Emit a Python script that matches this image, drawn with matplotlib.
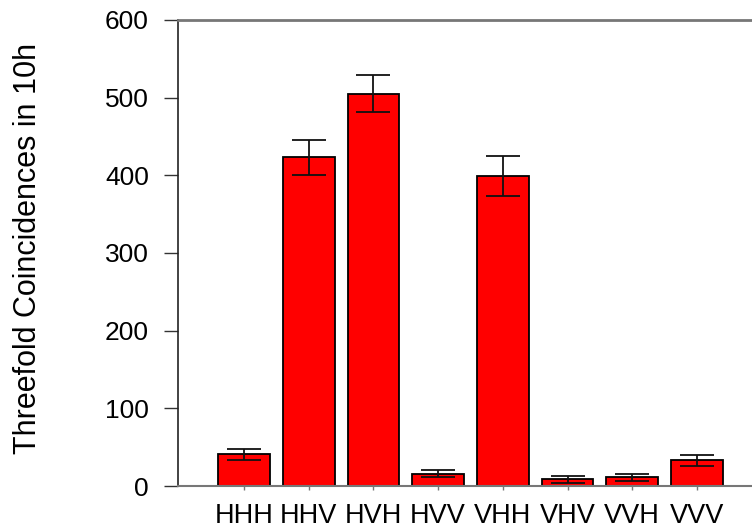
import matplotlib.pyplot as plt
import numpy as np

# threefold coincidence counts per polarisation setting
settings = ['HHH', 'HHV', 'HVH', 'HVV', 'VHH', 'VHV', 'VVH', 'VVV']
counts = [41, 423, 505, 16, 399, 9, 11, 33]
errors = [7, 22, 24, 5, 26, 4.5, 4.5, 7]

plt.rcParams['font.family'] = ['Liberation Sans', 'DejaVu Sans']

fig = plt.figure(figsize=(7.52, 5.31), dpi=100)
ax = fig.add_axes([178/752, 45/531, 574/752, 466/531])

x = np.arange(len(settings))
ax.bar(x, counts, width=0.8, color='#ff0000', edgecolor='black', linewidth=1.3,
       yerr=errors, capsize=12,
       error_kw=dict(ecolor='#111111', elinewidth=1.3, capthick=1.3))

ax.set_xlim(-1.02, 7.85)
ax.set_ylim(0, 600)
ax.set_yticks([0, 100, 200, 300, 400, 500, 600])
ax.set_xticks(x)
ax.set_xticklabels(settings)

ax.set_ylabel('Threefold Coincidences in 10h', fontsize=22)
ax.yaxis.set_label_coords(-0.235, 0.51)
ax.tick_params(axis='y', labelsize=19, length=10, width=1, pad=11, color='#333333')
ax.tick_params(axis='x', labelsize=19.5, length=3, width=1, pad=9, color='#777777')

ax.spines['right'].set_visible(False)
ax.spines['left'].set_color('#222222')
ax.spines['left'].set_linewidth(1.2)
ax.spines['bottom'].set_color('#777777')
ax.spines['bottom'].set_linewidth(1.5)
ax.spines['top'].set_color('#777777')
ax.spines['top'].set_linewidth(2)

fig.savefig('out.png', dpi=100)
